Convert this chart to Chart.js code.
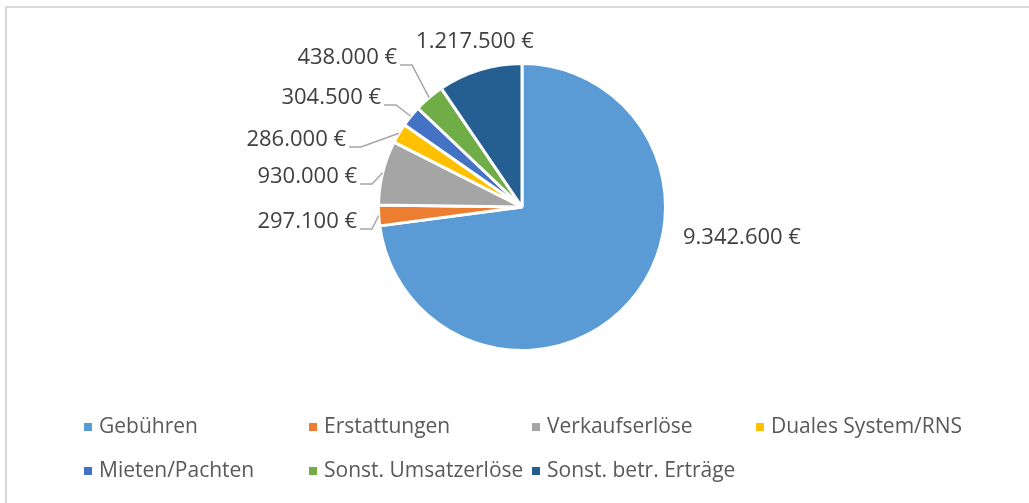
<!DOCTYPE html>
<html>
<head>
<meta charset="utf-8">
<script src="https://cdn.jsdelivr.net/npm/chart.js@4.4.1/dist/chart.umd.min.js"></script>
<style>
  html, body { margin: 0; padding: 0; background: #fff; }
  #wrap { width: 1029px; height: 503px; }
</style>
</head>
<body>
<div id="wrap"><canvas id="erloeseChart" width="1029" height="503"></canvas></div>
<script>
// Erlöse nach Art
const categories = ['Gebühren', 'Erstattungen', 'Verkaufserlöse', 'Duales System/RNS', 'Mieten/Pachten', 'Sonst. Umsatzerlöse', 'Sonst. betr. Erträge'];
const amounts = [9342600, 297100, 930000, 286000, 304500, 438000, 1217500];
const sliceColors = ['#5B9BD5', '#ED7D31', '#A5A5A5', '#FFC000', '#4472C4', '#70AD47', '#255E91'];

function euro(v) {
    return v.toString().replace(/\B(?=(\d{3})+(?!\d))/g, '.') + ' €';
}

// where each label sits, relative to the pie centre (Excel had them dragged around)
const labelSpots = [
    { dx: 161, dy: 31, align: 'left', leader: false },
    { dx: -165, dy: 15, align: 'right', leader: true },
    { dx: -165, dy: -30, align: 'right', leader: true },
    { dx: -176, dy: -67, align: 'right', leader: true },
    { dx: -141, dy: -109, align: 'right', leader: true },
    { dx: -125, dy: -149, align: 'right', leader: true },
    { dx: -47, dy: -165, align: 'center', leader: false }
];

const framePlugin = {
    id: 'frame',
    beforeDraw(chart) {
        const ctx = chart.ctx;
        ctx.save();
        ctx.strokeStyle = '#d9d9d9';
        ctx.lineWidth = 2;
        ctx.beginPath();
        ctx.moveTo(6, 510);
        ctx.lineTo(6, 7);
        ctx.lineTo(1040, 7);
        ctx.stroke();
        ctx.restore();
    }
};

const sliceLabels = {
    id: 'sliceLabels',
    afterDatasetsDraw(chart) {
        const ctx = chart.ctx;
        const meta = chart.getDatasetMeta(0);
        ctx.save();
        ctx.font = '22px "Open Sans"';
        ctx.textBaseline = 'middle';
        meta.data.forEach((arc, i) => {
            const p = arc.getProps(['x', 'y', 'startAngle', 'endAngle', 'outerRadius'], true);
            const spot = labelSpots[i];
            const lx = p.x + spot.dx;
            const ly = p.y + spot.dy;
            if (spot.leader) {
                const mid = (p.startAngle + p.endAngle) / 2;
                const ex = p.x + Math.cos(mid) * p.outerRadius;
                const ey = p.y + Math.sin(mid) * p.outerRadius;
                ctx.strokeStyle = '#a6a6a6';
                ctx.lineWidth = 1.5;
                ctx.beginPath();
                ctx.moveTo(lx + 3, ly + 7);
                ctx.lineTo(lx + 15, ly + 7);
                ctx.lineTo(ex, ey);
                ctx.stroke();
            }
            ctx.fillStyle = '#404040';
            ctx.textAlign = spot.align;
            ctx.fillText(euro(amounts[i]), lx, ly);
        });
        ctx.restore();
    }
};

// Excel style legend: fixed columns, left aligned rows
const gridLegend = {
    id: 'gridLegend',
    afterDraw(chart) {
        const ctx = chart.ctx;
        const colX = [84, 309, 532, 756];
        const rowY = [427, 471];
        ctx.save();
        ctx.font = '21px "Open Sans"';
        ctx.textBaseline = 'middle';
        ctx.textAlign = 'left';
        categories.forEach((name, i) => {
            const x = colX[i % 4];
            const y = rowY[Math.floor(i / 4)];
            ctx.fillStyle = sliceColors[i];
            ctx.fillRect(x, y - 4, 8, 8);
            ctx.fillStyle = '#595959';
            ctx.fillText(name, x + 15, y);
        });
        ctx.restore();
    }
};

const ctx = document.getElementById('erloeseChart').getContext('2d');
const erloeseChart = new Chart(ctx, {
    type: 'pie',
    data: {
        labels: categories,
        datasets: [{
            data: amounts,
            backgroundColor: sliceColors,
            borderColor: '#ffffff',
            borderWidth: 3
        }]
    },
    options: {
        responsive: false,
        animation: false,
        devicePixelRatio: 1,
        layout: { padding: { top: 62, bottom: 151, left: 322, right: 307 } },
        plugins: {
            legend: { display: false },
            tooltip: { enabled: false }
        }
    },
    plugins: [framePlugin, sliceLabels, gridLegend]
});
</script>
</body>
</html>
